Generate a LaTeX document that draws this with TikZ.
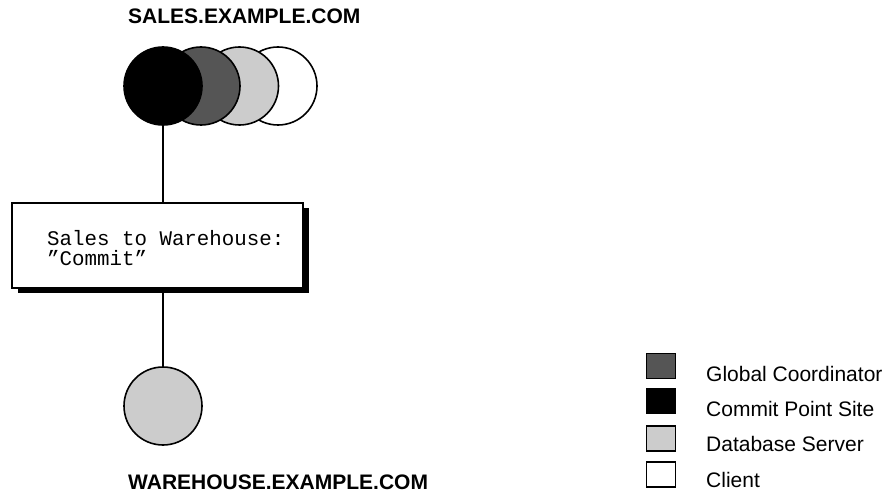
\documentclass[tikz,border=0pt]{standalone}
\usepackage{fontspec}
\setmainfont{Liberation Sans}
\setmonofont{Liberation Mono}
\definecolor{darkg}{HTML}{555555}
\definecolor{lightg}{HTML}{CCCCCC}
\begin{document}
\begin{tikzpicture}[x=1pt,y=-1pt,
 site/.style={circle,draw=black,line width=1.6pt,minimum size=78pt,inner sep=0pt},
 conn/.style={line width=1.8pt},
 msgbox/.style={rectangle,draw=black,line width=1.6pt,fill=white,minimum width=291pt,minimum height=85pt,inner sep=0pt},
 shadowbox/.style={rectangle,fill=black,minimum width=291pt,minimum height=85pt,inner sep=0pt},
 hostlabel/.style={font=\fontsize{21}{25}\selectfont\bfseries,anchor=base west,inner sep=0pt,text depth=0pt},
 msgtext/.style={font=\ttfamily\fontsize{20.8}{20}\selectfont,anchor=base west,inner sep=0pt},
 legbox/.style={rectangle,draw=black,line width=1.4pt,minimum width=29pt,minimum height=25pt,inner sep=0pt},
 legtext/.style={font=\fontsize{21}{25}\selectfont,anchor=base west,inner sep=0pt}]
\useasboundingbox[fill=white] (0,0) rectangle (886,492);
% sales site circles
\node[site,fill=white] (client) at (278,86) {};
\node[site,fill=lightg] (server) at (239.5,86) {};
\node[site,fill=darkg] (coord) at (201,86) {};
\node[site,fill=black] (commit) at (163,86) {};
\node[hostlabel] (saleslbl) at (128,24) {SALES.EXAMPLE.COM};
% message box
\node[shadowbox] (shadow) at (163.5,250.5) {};
\node[msgbox] (box) at (157.5,245.5) {};
\node[msgtext] (line1) at (47,245) {Sales to Warehouse:};
\node[msgtext] (line2) at (47,265) {”Commit”};
% warehouse site
\node[site,fill=lightg] (warehouse) at (163,406) {};
\node[hostlabel] (warelbl) at (128,489) {WAREHOUSE.EXAMPLE.COM};
% connectors
\draw[conn] (commit.south) -- (commit.south |- box.north);
\draw[conn] (warehouse.north |- box.south) -- (warehouse.north);
% legend
\node[legbox,fill=darkg] (lg1) at (661,366) {};
\node[legbox,fill=black] (lg2) at (661,401) {};
\node[legbox,fill=lightg] (lg3) at (661,438.5) {};
\node[legbox,fill=white] (lg4) at (661,474.5) {};
\node[legtext] (lt1) at (706,381) {Global Coordinator};
\node[legtext] (lt2) at (706,416) {Commit Point Site};
\node[legtext] (lt3) at (706,451) {Database Server};
\node[legtext] (lt4) at (706,487) {Client};
\end{tikzpicture}
\end{document}
